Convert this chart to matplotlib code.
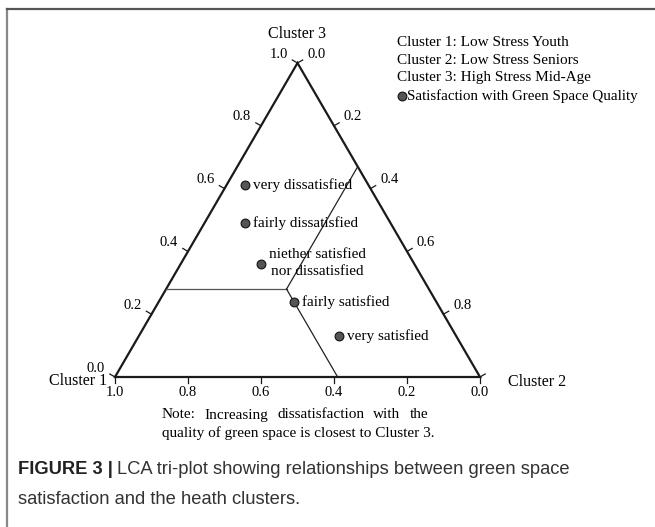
import numpy as np
import matplotlib.pyplot as plt
from matplotlib.lines import Line2D

# --- ternary data: (cluster 1, cluster 2, cluster 3) shares ---
point_names = ["very dissatisfied", "fairly dissatisfied",
               "niether satisfied\nnor dissatisfied", "fairly satisfied", "very satisfied"]
c1_vals = [0.34, 0.40, 0.42, 0.39, 0.32]
c2_vals = [0.05, 0.11, 0.22, 0.37, 0.55]
c3_vals = [0.61, 0.49, 0.36, 0.24, 0.13]

# region boundary junction (c1, c2, c3)
junction = (0.39, 0.33, 0.28)

tick_vals = [0.0, 0.2, 0.4, 0.6, 0.8, 1.0]
legend_lines = ["Cluster 1: Low Stress Youth", "Cluster 2: Low Stress Seniors",
                "Cluster 3: High Stress Mid-Age"]
legend_marker_text = "Satisfaction with Green Space Quality"
note_line1 = "Note: Increasing dissatisfaction with the"
note_line2 = "quality of green space is closest to Cluster 3."

# --- layout (pixel space, y down) ---
W, H = 655, 527
V1 = np.array([115.0, 377.0])   # Cluster 1 corner
V2 = np.array([480.0, 377.0])   # Cluster 2 corner
V3 = np.array([297.5, 63.0])    # Cluster 3 corner


def txy(c1, c2, c3):
    p = c1 * V1 + c2 * V2 + c3 * V3
    return p[0], p[1]


serif = "Liberation Serif"
fig = plt.figure(figsize=(W / 100, H / 100), dpi=100)
ax = fig.add_axes([0, 0, 1, 1])
ax.set_xlim(0, W)
ax.set_ylim(H, 0)
ax.axis("off")

# frame (left + top only)
ax.add_line(Line2D([7, 7], [8.5, H], color="#888888", lw=1.6))
ax.add_line(Line2D([7, W], [8.5, 8.5], color="#555555", lw=1.6))

# triangle
tri = np.array([V1, V2, V3, V1])
ax.plot(tri[:, 0], tri[:, 1], color="#1a1a1a", lw=1.6, solid_joinstyle="miter")

# boundary lines from junction, each holding one share constant
j1, j2, j3 = junction
jx, jy = txy(*junction)
ends = [txy(1 - j3, 0.0, j3),      # to left edge (c3 const)
        txy(0.0, j2, 1 - j2),      # to right edge (c2 const)
        txy(j1, 1 - j1, 0.0)]      # to bottom edge (c1 const)
for (ex, ey), col in zip(ends, ["#555555", "#222222", "#222222"]):
    ax.plot([jx, ex], [jy, ey], color=col, lw=0.9)

# ticks and tick labels
tl = 6
left_dir = np.array([-0.866, -0.5])
right_dir = np.array([0.866, -0.5])
for v in tick_vals:
    lab = f"{v:.1f}"
    # bottom axis: cluster 1 share
    bx, by = txy(v, 1 - v, 0.0)
    ax.plot([bx, bx], [by, by + tl], color="#1a1a1a", lw=0.9)
    ax.text(bx, by + 15, lab, ha="center", va="center", family=serif, fontsize=10.5)
    # left axis: cluster 3 share
    lx, ly = txy(1 - v, 0.0, v)
    ax.plot([lx, lx + tl * left_dir[0]], [ly, ly + tl * left_dir[1]], color="#1a1a1a", lw=0.9)
    ax.text(lx - 19, ly - 9, lab, ha="center", va="center", family=serif, fontsize=10.5)
    # right axis: cluster 2 share
    rx, ry = txy(0.0, v, 1 - v)
    ax.plot([rx, rx + tl * right_dir[0]], [ry, ry + tl * right_dir[1]], color="#1a1a1a", lw=0.9)
    if v < 1.0:
        ax.text(rx + 19, ry - 9, lab, ha="center", va="center", family=serif, fontsize=10.5)

# corner labels
ax.text(V3[0], 34, "Cluster 3", ha="center", va="center", family=serif, fontsize=11.5)
ax.text(107, 381, "Cluster 1", ha="right", va="center", family=serif, fontsize=11.5)
ax.text(508, 382, "Cluster 2", ha="left", va="center", family=serif, fontsize=11.5)

# points
px, py = zip(*[txy(a, b, c) for a, b, c in zip(c1_vals, c2_vals, c3_vals)])
ax.scatter(px, py, s=40, color="#555555", edgecolor="#111111", linewidth=0.8, zorder=5)
for name, x, y in zip(point_names, px, py):
    if "\n" in name:
        ax.text(x + 56, y - 1, name, ha="center", va="center", family=serif,
                fontsize=11, linespacing=1.4)
    else:
        ax.text(x + 8, y, name, ha="left", va="center", family=serif, fontsize=11)

# legend block
for i, line in enumerate(legend_lines):
    ax.text(397, 43 + i * 17.5, line, ha="left", va="center", family=serif, fontsize=11)
ax.scatter([401.5], [96], s=40, color="#555555", edgecolor="#111111", linewidth=0.8)
ax.text(407, 96, legend_marker_text, ha="left", va="center", family=serif, fontsize=10.8)

# note text, first line justified
fig.canvas.draw()
renderer = fig.canvas.get_renderer()
left_x, right_x = 162, 428
words = note_line1.split()
wts = [ax.text(0, 0, w, family=serif, fontsize=11) for w in words]
widths = [t.get_window_extent(renderer).width for t in wts]
for t in wts:
    t.remove()
gap = (right_x - left_x - sum(widths)) / (len(words) - 1)
x = left_x
for w, wd in zip(words, widths):
    ax.text(x, 415, w, ha="left", va="center", family=serif, fontsize=11)
    x += wd + gap
ax.text(left_x, 433, note_line2, ha="left", va="center", family=serif, fontsize=11)

# caption
cap = "Liberation Sans"
t1 = ax.text(18, 470, "FIGURE 3 |", ha="left", va="center", family=cap,
             fontsize=13.2, fontweight="bold", color="#222222")
fig.canvas.draw()
bb = t1.get_window_extent(renderer)
ax.text(bb.x1 + 4, 470, "LCA tri-plot showing relationships between green space",
        ha="left", va="center", family=cap, fontsize=13.2, color="#333333")
ax.text(18, 500, "satisfaction and the heath clusters.", ha="left", va="center",
        family=cap, fontsize=13.2, color="#333333")

fig.savefig("out.png", dpi=100)
